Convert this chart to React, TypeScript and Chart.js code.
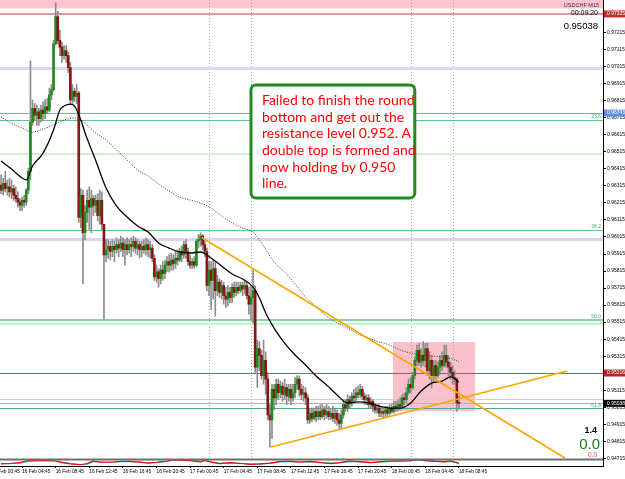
import React, { useEffect, useRef } from 'react';
import { Chart, registerables } from 'chart.js';
Chart.register(...registerables);

// ---- candle data (USDCHF M15), bar index 0 = 16 Feb 02:15 ----
const opens = [
0.9632,0.9629,0.9633,0.9630,0.9631,0.9628,0.9630,0.9626,0.9624,0.9622,
0.9620,0.9623,0.9622,0.9629,0.9640,0.9669,0.9677,0.9673,0.9675,0.9671,
0.9676,0.9674,0.9678,0.9676,0.9685,0.9688,0.9715,0.9731,0.9717,0.9713,
0.9708,0.9711,0.9708,0.9701,0.9682,0.9687,0.9684,0.9686,0.9613,0.9626,
0.9604,0.9616,0.9623,0.9619,0.9624,0.9620,0.9623,0.9614,0.9623,0.9609,
0.9591,0.9594,0.9596,0.9593,0.9596,0.9594,0.9597,0.9595,0.9598,0.9594,
0.9597,0.9594,0.9597,0.9596,0.9599,0.9595,0.9597,0.9594,0.9596,0.9594,
0.9597,0.9594,0.9595,0.9589,0.9578,0.9581,0.9577,0.9582,0.9580,0.9585,
0.9587,0.9585,0.9588,0.9586,0.9589,0.9588,0.9593,0.9591,0.9597,0.9593,
0.9587,0.9585,0.9587,0.9585,0.9599,0.9600,0.9602,0.9597,0.9593,0.9573,
0.9582,0.9576,0.9583,0.9570,0.9575,0.9569,0.9573,0.9567,0.9565,0.9569,
0.9566,0.9572,0.9569,0.9572,0.9570,0.9573,0.9571,0.9573,0.9567,0.9562,
0.9566,0.9570,0.9525,0.9536,0.9532,0.9520,0.9529,0.9518,0.9497,0.9494,
0.9512,0.9507,0.9515,0.9510,0.9514,0.9509,0.9513,0.9508,0.9512,0.9507,
0.9510,0.9515,0.9518,0.9512,0.9509,0.9510,0.9507,0.9494,0.9498,0.9495,
0.9499,0.9496,0.9499,0.9496,0.9500,0.9497,0.9499,0.9496,0.9498,0.9495,
0.9498,0.9494,0.9492,0.9497,0.9503,0.9501,0.9506,0.9504,0.9508,0.9507,
0.9510,0.9509,0.9512,0.9508,0.9506,0.9507,0.9503,0.9505,0.9502,0.9500,
0.9501,0.9498,0.9499,0.9498,0.9500,0.9498,0.9501,0.9499,0.9502,0.9501,
0.9503,0.9502,0.9507,0.9506,0.9510,0.9515,0.9513,0.9520,0.9529,0.9535,
0.9528,0.9532,0.9529,0.9536,0.9523,0.9529,0.9520,0.9526,0.9520,0.9525,
0.9529,0.9526,0.9532,0.9528,0.9525,0.9522,0.9519,0.9518,0.9504];
const highs = [
0.9638,0.9636,0.9640,0.9635,0.9636,0.9635,0.9632,0.9631,0.9628,0.9624,
0.9625,0.9626,0.9630,0.9642,0.9705,0.9682,0.9680,0.9679,0.9677,0.9679,
0.9681,0.9682,0.9683,0.9689,0.9691,0.9717,0.9739,0.9734,0.9723,0.9716,
0.9714,0.9714,0.9710,0.9704,0.9691,0.9689,0.9691,0.9687,0.9630,0.9629,
0.9620,0.9629,0.9631,0.9629,0.9626,0.9626,0.9627,0.9629,0.9628,0.9609,
0.9600,0.9600,0.9599,0.9600,0.9599,0.9601,0.9600,0.9602,0.9601,0.9600,
0.9601,0.9600,0.9601,0.9602,0.9601,0.9600,0.9599,0.9599,0.9600,0.9601,
0.9600,0.9599,0.9597,0.9591,0.9585,0.9583,0.9585,0.9587,0.9588,0.9590,
0.9591,0.9592,0.9591,0.9593,0.9594,0.9595,0.9596,0.9599,0.9600,0.9595,
0.9591,0.9589,0.9590,0.9600,0.9603,0.9604,0.9603,0.9600,0.9595,0.9587,
0.9587,0.9588,0.9587,0.9579,0.9577,0.9576,0.9575,0.9572,0.9573,0.9572,
0.9574,0.9575,0.9575,0.9575,0.9575,0.9575,0.9576,0.9575,0.9572,0.9573,
0.9582,0.9573,0.9541,0.9540,0.9535,0.9541,0.9534,0.9522,0.9503,0.9515,
0.9515,0.9518,0.9518,0.9517,0.9516,0.9518,0.9515,0.9515,0.9515,0.9515,
0.9519,0.9520,0.9520,0.9515,0.9514,0.9513,0.9509,0.9501,0.9501,0.9501,
0.9502,0.9502,0.9503,0.9503,0.9502,0.9503,0.9502,0.9501,0.9502,0.9501,
0.9500,0.9498,0.9500,0.9506,0.9506,0.9509,0.9508,0.9510,0.9512,0.9513,
0.9514,0.9515,0.9514,0.9510,0.9509,0.9509,0.9507,0.9506,0.9504,0.9503,
0.9503,0.9502,0.9501,0.9502,0.9502,0.9503,0.9503,0.9505,0.9505,0.9506,
0.9507,0.9509,0.9510,0.9513,0.9518,0.9519,0.9522,0.9531,0.9538,0.9539,
0.9536,0.9540,0.9539,0.9539,0.9534,0.9532,0.9529,0.9529,0.9528,0.9532,
0.9534,0.9538,0.9538,0.9532,0.9528,0.9526,0.9523,0.9519,0.9508];
const lows = [
0.9627,0.9626,0.9628,0.9626,0.9625,0.9624,0.9623,0.9622,0.9619,0.9617,
0.9617,0.9619,0.9620,0.9627,0.9635,0.9667,0.9670,0.9667,0.9667,0.9669,
0.9670,0.9671,0.9674,0.9675,0.9682,0.9687,0.9714,0.9715,0.9708,0.9704,
0.9706,0.9704,0.9698,0.9680,0.9680,0.9681,0.9680,0.9610,0.9607,0.9574,
0.9600,0.9610,0.9606,0.9604,0.9614,0.9616,0.9611,0.9609,0.9606,0.9553,
0.9587,0.9589,0.9588,0.9590,0.9587,0.9592,0.9590,0.9593,0.9590,0.9585,
0.9591,0.9592,0.9590,0.9593,0.9592,0.9591,0.9589,0.9590,0.9592,0.9591,
0.9590,0.9589,0.9587,0.9576,0.9575,0.9572,0.9574,0.9576,0.9577,0.9581,
0.9581,0.9582,0.9582,0.9583,0.9585,0.9587,0.9587,0.9589,0.9589,0.9585,
0.9583,0.9583,0.9583,0.9584,0.9595,0.9596,0.9594,0.9590,0.9570,0.9567,
0.9559,0.9565,0.9555,0.9567,0.9566,0.9565,0.9562,0.9560,0.9561,0.9563,
0.9563,0.9566,0.9567,0.9568,0.9569,0.9567,0.9568,0.9565,0.9556,0.9553,
0.9551,0.9522,0.9513,0.9523,0.9518,0.9515,0.9509,0.9494,0.9478,0.9483,
0.9500,0.9503,0.9506,0.9507,0.9505,0.9506,0.9503,0.9505,0.9503,0.9505,
0.9507,0.9512,0.9508,0.9506,0.9505,0.9503,0.9492,0.9492,0.9493,0.9494,
0.9493,0.9494,0.9494,0.9495,0.9494,0.9495,0.9494,0.9494,0.9493,0.9492,
0.9491,0.9489,0.9489,0.9495,0.9499,0.9499,0.9501,0.9502,0.9504,0.9505,
0.9507,0.9507,0.9506,0.9503,0.9503,0.9501,0.9501,0.9499,0.9498,0.9498,
0.9496,0.9496,0.9495,0.9496,0.9496,0.9497,0.9498,0.9498,0.9499,0.9499,
0.9500,0.9501,0.9503,0.9504,0.9509,0.9510,0.9512,0.9518,0.9526,0.9526,
0.9525,0.9526,0.9525,0.9520,0.9518,0.9513,0.9516,0.9518,0.9519,0.9521,
0.9523,0.9525,0.9525,0.9520,0.9518,0.9515,0.9515,0.9499,0.9501];
const closes = [
0.9629,0.9633,0.9630,0.9631,0.9628,0.9630,0.9626,0.9624,0.9622,0.9620,
0.9623,0.9622,0.9629,0.9640,0.9669,0.9677,0.9673,0.9675,0.9671,0.9676,
0.9674,0.9678,0.9676,0.9685,0.9688,0.9715,0.9731,0.9717,0.9713,0.9708,
0.9711,0.9708,0.9701,0.9682,0.9687,0.9684,0.9686,0.9613,0.9626,0.9604,
0.9616,0.9623,0.9619,0.9624,0.9620,0.9623,0.9614,0.9623,0.9609,0.9591,
0.9594,0.9596,0.9593,0.9596,0.9594,0.9597,0.9595,0.9598,0.9594,0.9597,
0.9594,0.9597,0.9596,0.9599,0.9595,0.9597,0.9594,0.9596,0.9594,0.9597,
0.9594,0.9595,0.9589,0.9578,0.9581,0.9577,0.9582,0.9580,0.9585,0.9587,
0.9585,0.9588,0.9586,0.9589,0.9588,0.9593,0.9591,0.9597,0.9593,0.9587,
0.9585,0.9587,0.9585,0.9599,0.9600,0.9602,0.9597,0.9593,0.9573,0.9582,
0.9576,0.9583,0.9570,0.9575,0.9569,0.9573,0.9567,0.9565,0.9569,0.9566,
0.9572,0.9569,0.9572,0.9570,0.9573,0.9571,0.9573,0.9567,0.9562,0.9566,
0.9570,0.9525,0.9536,0.9532,0.9520,0.9529,0.9518,0.9497,0.9494,0.9512,
0.9507,0.9515,0.9510,0.9514,0.9509,0.9513,0.9508,0.9512,0.9507,0.9510,
0.9515,0.9518,0.9512,0.9509,0.9510,0.9507,0.9494,0.9498,0.9495,0.9499,
0.9496,0.9499,0.9496,0.9500,0.9497,0.9499,0.9496,0.9498,0.9495,0.9498,
0.9494,0.9492,0.9497,0.9503,0.9501,0.9506,0.9504,0.9508,0.9507,0.9510,
0.9509,0.9512,0.9508,0.9506,0.9507,0.9503,0.9505,0.9502,0.9500,0.9501,
0.9498,0.9499,0.9498,0.9500,0.9498,0.9501,0.9499,0.9502,0.9501,0.9503,
0.9502,0.9507,0.9506,0.9510,0.9515,0.9513,0.9520,0.9529,0.9535,0.9528,
0.9532,0.9529,0.9536,0.9523,0.9529,0.9520,0.9526,0.9520,0.9525,0.9529,
0.9526,0.9532,0.9528,0.9525,0.9522,0.9519,0.9518,0.9504,0.95038];

// ---- moving averages ----
const maFastBars = [0,5,10,12,15,20,25,28,30,33,35,38,40,45,50,55,60,65,70,75,80,85,90,95,100,105,110,115,120,123,126,130,135,140,145,150,155,160,165,170,175,180,185,190,195,200,205,210,214,218];
const maFastPrices = [0.96461,0.96414,0.96362,0.96350,0.96432,0.96508,0.96644,0.96761,0.96784,0.96796,0.96784,0.96702,0.96626,0.96467,0.96303,0.96197,0.96132,0.96080,0.96044,0.95980,0.95950,0.95927,0.95921,0.95927,0.95892,0.95845,0.95798,0.95768,0.95721,0.95657,0.95569,0.95480,0.95392,0.95322,0.95263,0.95198,0.95146,0.95087,0.95040,0.95046,0.95040,0.95022,0.95010,0.95010,0.95040,0.95110,0.95157,0.95169,0.95193,0.95163];
const maSlowBars = [0,5,10,15,20,25,30,35,38,45,50,55,60,65,70,75,80,85,90,95,100,105,110,115,120,125,130,135,140,145,150,155,160,165,170,175,180,185,190,195,200,205,210,215,218];
const maSlowPrices = [0.96720,0.96682,0.96655,0.96632,0.96649,0.96673,0.96702,0.96714,0.96702,0.96626,0.96585,0.96526,0.96467,0.96409,0.96373,0.96326,0.96285,0.96250,0.96232,0.96215,0.96185,0.96138,0.96097,0.96068,0.96044,0.95962,0.95868,0.95809,0.95739,0.95663,0.95604,0.95551,0.95510,0.95480,0.95445,0.95422,0.95398,0.95381,0.95351,0.95334,0.95322,0.95316,0.95310,0.95298,0.95281];

// ---- oscillator sub-window ----
const oscBars = [0,4,9,12,16,21,26,29,33,38,41,44,47,52,57,61,66,70,74,79,82,85,90,95,97,101,104,109,114,119,123,128,133,138,142,147,152,157,161,166,171,176,180,185,190,195,198,202,207,211,214,218];
const oscMain = [28,33,44,67,72,72,67,44,28,17,33,67,50,50,61,61,50,39,50,67,83,78,72,56,78,44,33,44,33,22,28,39,61,61,50,61,44,33,44,67,56,44,56,67,67,72,89,72,61,56,67,33];
const oscSignal = [35,30,38,58,70,73,70,52,33,20,25,58,57,50,57,62,55,43,46,60,78,80,75,62,70,52,36,40,36,26,26,34,54,62,54,57,50,38,40,58,60,48,52,62,66,70,82,78,65,58,62,42];

// ---- axes ----
const timeTickBars = [10,26,42,58,74,90,106,122,138,154,170,186,202,218];
const timeTickLabels = ['16 Feb 04:45','16 Feb 08:45','16 Feb 12:45','16 Feb 16:45','16 Feb 20:45','17 Feb 00:45','17 Feb 04:45','17 Feb 08:45','17 Feb 12:45','17 Feb 16:45','17 Feb 20:45','18 Feb 00:45','18 Feb 04:45','18 Feb 08:45'];
const clippedTickBar = -4.5;
const clippedTickLabel = '16 Feb 00:45';
const priceTicks = [0.97215,0.97115,0.97015,0.96915,0.96815,0.96715,0.96615,0.96515,0.96415,0.96315,0.96215,0.96115,0.96015,0.95915,0.95815,0.95715,0.95615,0.95515,0.95415,0.95315,0.95215,0.95115,0.95015,0.94915,0.94815,0.94715];

// ---- drawn objects ----
const trendDownBars = [95.5, 268.5];
const trendDownPrices = [0.96012, 0.94717];
const trendUpBars = [128.5, 269.5];
const trendUpPrices = [0.94781, 0.95228];
const zoneBars = [186.6, 225.7];
const zonePrices = [0.95398, 0.94993];
const topBandBars = [-5, 300];
const topBandPrices = [0.97358, 0.9760];
const sessionBars = [99, 119, 195, 215];
const levelPrices = [0.97325, 0.97002, 0.96743, 0.96702, 0.96502, 0.96056, 0.96003, 0.95527, 0.95504, 0.95216, 0.95058, 0.95005];
const levelColors = ['#dc9c9c', '#d6d6f6', '#7fa3e6', '#5cc48c', '#c8f4c8', '#5cc48c', '#d6d6f6', '#5cc48c', '#c8f4c8', '#b35858', '#cfcfcf', '#4aa98a'];
const levelWidths = [2, 3, 1, 1, 2, 1, 3, 1.5, 2, 1, 1, 1];
const fibPrices = [0.96702, 0.96056, 0.95527, 0.95005];
const fibNames = ['23.6', '38.2', '50.0', '61.8'];
const tagPrices = [0.97325, 0.96743, 0.95216];
const tagColors = ['#c03030', '#5b8fe8', '#b02828'];
const noteBars = [119.0, 197.0];
const notePrices = [0.96908, 0.96244];
const noteLines = ['Failed to finish the round', 'bottom and get out the', 'resistance level 0.952. A', 'double top is formed and', 'now holding by 0.950', 'line.'];

const BULL = '#1e8b1e';
const BEAR = '#8b1414';
const WICK = '#8c8c8c';
const AXIS_FONT = { family: 'Liberation Sans', size: 4.8 };

const overlayPlugin = {
  id: 'overlay',
  beforeDatasetsDraw(chart: any) {
    const { ctx, chartArea: ca, scales } = chart;
    const xs = scales.x, ys = scales.y;
    ctx.save();
    ctx.beginPath();
    ctx.rect(ca.left, ys.top, ca.right - ca.left, ys.bottom - ys.top);
    ctx.clip();
    const rect = (bars: number[], prices: number[], color: string) => {
      const x0 = xs.getPixelForValue(bars[0]), x1 = xs.getPixelForValue(bars[1]);
      const y0 = ys.getPixelForValue(prices[0]), y1 = ys.getPixelForValue(prices[1]);
      ctx.fillStyle = color;
      ctx.fillRect(Math.min(x0, x1), Math.min(y0, y1), Math.abs(x1 - x0), Math.abs(y1 - y0));
    };
    rect(topBandBars, topBandPrices, 'rgb(255,196,206)');
    rect(zoneBars, zonePrices, 'rgb(250,192,204)');
    ctx.strokeStyle = '#a8a8a8';
    ctx.lineWidth = 1;
    ctx.setLineDash([1, 2]);
    sessionBars.forEach((b) => {
      const px = Math.round(xs.getPixelForValue(b)) + 0.5;
      ctx.beginPath(); ctx.moveTo(px, ys.top); ctx.lineTo(px, ys.bottom); ctx.stroke();
    });
    ctx.setLineDash([]);
    levelPrices.forEach((p, k) => {
      let py = ys.getPixelForValue(p);
      if (levelWidths[k] % 2 === 1) py = Math.round(py - 0.5) + 0.5;
      ctx.strokeStyle = levelColors[k];
      ctx.lineWidth = levelWidths[k];
      ctx.beginPath(); ctx.moveTo(ca.left, py); ctx.lineTo(ca.right, py); ctx.stroke();
    });
    const bid = closes[closes.length - 1];
    const by = Math.round(ys.getPixelForValue(bid) - 0.5) + 0.5;
    ctx.strokeStyle = '#b4b4b4';
    ctx.beginPath(); ctx.moveTo(ca.left, by); ctx.lineTo(ca.right, by); ctx.stroke();
    ctx.restore();
  },
  afterDatasetsDraw(chart: any) {
    const { ctx, chartArea: ca, scales } = chart;
    const xs = scales.x, ys = scales.y;
    ctx.save();
    // fib labels
    ctx.font = '5px "Liberation Sans"';
    ctx.fillStyle = '#3cb371';
    ctx.textAlign = 'right';
    ctx.textBaseline = 'bottom';
    fibPrices.forEach((p, k) => ctx.fillText(fibNames[k], ca.right - 2, ys.getPixelForValue(p) - 0.5));
    // note box
    const x0 = xs.getPixelForValue(noteBars[0]), x1 = xs.getPixelForValue(noteBars[1]);
    const y0 = ys.getPixelForValue(notePrices[0]), y1 = ys.getPixelForValue(notePrices[1]);
    ctx.beginPath();
    ctx.roundRect(x0, y0, x1 - x0, y1 - y0, 5);
    ctx.fillStyle = '#ffffff';
    ctx.fill();
    ctx.lineWidth = 3;
    ctx.strokeStyle = '#1f8a1f';
    ctx.stroke();
    ctx.fillStyle = '#ff0000';
    ctx.font = '14px Lato';
    ctx.textAlign = 'left';
    ctx.textBaseline = 'middle';
    noteLines.forEach((t, k) => ctx.fillText(t, x0 + 11, y0 + 15.7 + k * 16.6));
    // top-right info
    const R = ca.right;
    ctx.textAlign = 'right';
    ctx.fillStyle = '#333';
    ctx.font = '5.5px "Liberation Sans"';
    ctx.fillText('USDCHF M15', R - 4, 5);
    ctx.fillStyle = '#000';
    ctx.font = '7px "Liberation Sans"';
    ctx.fillText('00:09:20', R - 5, 13.5);
    ctx.font = '9.5px "Liberation Sans"';
    ctx.fillText(closes[closes.length - 1].toFixed(5), R - 5, 26);
    // bottom-right info
    ctx.font = 'bold 9px "Liberation Sans"';
    ctx.fillText('1.4', R - 6, 431);
    ctx.fillStyle = '#1a7a1a';
    ctx.font = '15px "Liberation Sans"';
    ctx.fillText('0.0', R - 3, 445);
    ctx.fillStyle = '#d05050';
    ctx.font = '6.5px "Liberation Sans"';
    ctx.fillText('0.0', R - 6, 455);
    ctx.restore();
  },
  afterDraw(chart: any) {
    const { ctx, chartArea: ca, scales } = chart;
    const ys = scales.y, xs = scales.x;
    ctx.save();
    // panel separator
    ctx.fillStyle = '#6e6e6e';
    ctx.fillRect(ca.left, ys.bottom, ca.right - ca.left, 2);
    // time label cut by the left edge
    ctx.fillStyle = '#000';
    ctx.font = '4.8px "Liberation Sans"';
    ctx.textAlign = 'left';
    ctx.textBaseline = 'top';
    ctx.fillText(clippedTickLabel, xs.getPixelForValue(clippedTickBar), xs.top + 3);
    // price tags on axis
    const tag = (p: number, color: string) => {
      const py = ys.getPixelForValue(p);
      ctx.fillStyle = color;
      ctx.fillRect(ca.right + 1, py - 3.5, 22, 7);
      ctx.fillStyle = '#fff';
      ctx.font = '5px "Liberation Sans"';
      ctx.textAlign = 'left';
      ctx.textBaseline = 'middle';
      ctx.fillText(p.toFixed(5), ca.right + 4, py);
    };
    tagPrices.forEach((p, k) => tag(p, tagColors[k]));
    tag(closes[closes.length - 1], '#000');
    ctx.restore();
  },
};

export default function App() {
  const ref = useRef<HTMLCanvasElement>(null);
  useEffect(() => {
    document.body.style.margin = '0';
    const canvas = ref.current;
    if (!canvas) return;
    const idx = closes.map((_, i) => i);
    const wickData = idx.map((i) => ({ x: i, y: [lows[i], highs[i]] }));
    const bodyData = idx.map((i) => ({ x: i, y: [Math.min(opens[i], closes[i]), Math.max(opens[i], closes[i])] }));
    const bodyColors = idx.map((i) => (closes[i] >= opens[i] ? BULL : BEAR));
    const pts = (bars: number[], vals: number[]) => bars.map((b, k) => ({ x: b, y: vals[k] }));

    const chart = new Chart(canvas, {
      type: 'bar',
      data: {
        datasets: [
          { type: 'bar', data: wickData as any, backgroundColor: WICK, grouped: false, maxBarThickness: 1, categoryPercentage: 1, barPercentage: 1, borderWidth: 0, order: 10, xAxisID: 'x', yAxisID: 'y' },
          { type: 'bar', data: bodyData as any, backgroundColor: bodyColors, grouped: false, maxBarThickness: 2, categoryPercentage: 1, barPercentage: 1, borderWidth: 0, minBarLength: 1, order: 9, xAxisID: 'x', yAxisID: 'y' },
          { type: 'line', data: pts(maSlowBars, maSlowPrices), borderColor: '#3a3a3a', borderWidth: 1, borderDash: [1, 1.5], pointRadius: 0, cubicInterpolationMode: 'monotone', order: 6, xAxisID: 'x', yAxisID: 'y' },
          { type: 'line', data: pts(maFastBars, maFastPrices), borderColor: '#000', borderWidth: 1.3, pointRadius: 0, cubicInterpolationMode: 'monotone', order: 5, xAxisID: 'x', yAxisID: 'y' },
          { type: 'line', data: pts(trendDownBars, trendDownPrices), borderColor: '#ffa500', borderWidth: 1.6, pointRadius: 0, order: 3, xAxisID: 'x', yAxisID: 'y' },
          { type: 'line', data: pts(trendUpBars, trendUpPrices), borderColor: '#ffa500', borderWidth: 1.6, pointRadius: 0, order: 3, xAxisID: 'x', yAxisID: 'y' },
          { type: 'line', data: pts(oscBars, oscSignal), borderColor: '#20b8c0', borderWidth: 1.2, pointRadius: 0, order: 2, xAxisID: 'x', yAxisID: 'yi' },
          { type: 'line', data: pts(oscBars, oscMain), borderColor: '#ff0000', borderWidth: 1.2, pointRadius: 0, order: 1, xAxisID: 'x', yAxisID: 'yi' },
        ] as any,
      },
      options: {
        responsive: false,
        animation: false,
        devicePixelRatio: 1,
        events: [],
        layout: { padding: 0 },
        plugins: { legend: { display: false }, tooltip: { enabled: false } },
        scales: {
          x: {
            type: 'linear', min: -0.5, max: 286.6, offset: false,
            grid: { display: true, drawOnChartArea: false, tickLength: 2, color: '#000', offset: false },
            border: { display: true, color: '#000', width: 1 },
            ticks: {
              autoSkip: false, maxRotation: 0, minRotation: 0, align: 'start', padding: 1,
              font: AXIS_FONT, color: '#000',
              callback: (v: any) => { const k = timeTickBars.indexOf(Number(v)); return k >= 0 ? timeTickLabels[k] : ''; },
            },
            afterBuildTicks: (s: any) => { s.ticks = timeTickBars.map((v) => ({ value: v })); },
            afterFit: (s: any) => { s.height = 13; s.paddingLeft = 0; s.paddingRight = 0; },
          },
          y: {
            type: 'linear', position: 'right', stack: 'win', stackWeight: 458.5,
            min: 0.94714, max: 0.97407, offset: false,
            grid: { display: true, drawOnChartArea: false, tickLength: 3, color: '#000' },
            border: { display: true, color: '#000', width: 1 },
            ticks: { autoSkip: false, padding: 1, font: { family: 'Liberation Sans', size: 5 }, color: '#000', callback: (v: any) => Number(v).toFixed(5) },
            afterBuildTicks: (s: any) => { s.ticks = priceTicks.map((v) => ({ value: v })); },
            afterFit: (s: any) => { s.width = 22; s.paddingTop = 0; s.paddingBottom = 0; },
          },
          yi: {
            type: 'linear', position: 'right', stack: 'win', stackWeight: 7.5,
            min: 0, max: 100, offset: false,
            grid: { display: false },
            border: { display: true, color: '#000', width: 1 },
            ticks: { display: false },
            afterFit: (s: any) => { s.width = 22; },
          },
        } as any,
      },
      plugins: [overlayPlugin],
    });
    return () => chart.destroy();
  }, []);
  return <canvas ref={ref} width={625} height={479} style={{ display: 'block' }} />;
}
